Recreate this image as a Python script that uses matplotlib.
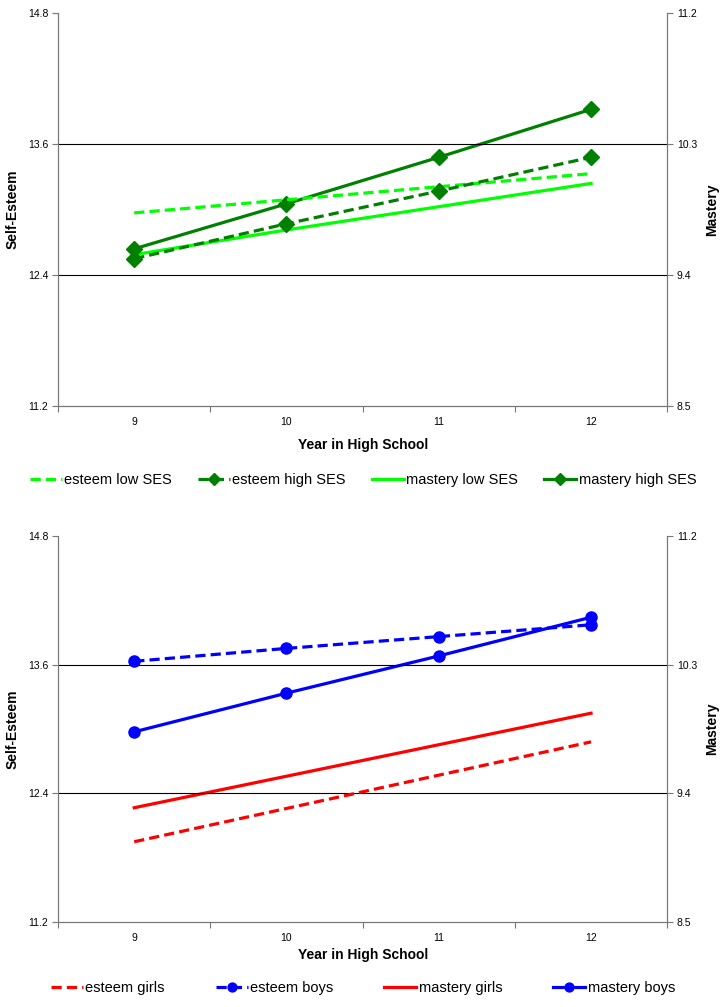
import matplotlib
matplotlib.use("Agg")
import matplotlib.pyplot as plt
from matplotlib.ticker import FixedLocator, NullFormatter

plt.rcParams['font.family'] = ['Liberation Sans', 'DejaVu Sans']

years = [9, 10, 11, 12]
esteem_ticks = [11.2, 12.4, 13.6, 14.8]
mastery_ticks = [8.5, 9.4, 10.3, 11.2]

# Panel 1: SES
esteem_low_ses = [12.97, 13.09, 13.21, 13.33]
esteem_high_ses = [12.55, 12.87, 13.17, 13.48]
mastery_low_ses = [9.54, 9.71, 9.87, 10.03]
mastery_high_ses = [9.58, 9.89, 10.21, 10.54]

# Panel 2: gender
esteem_girls = [11.95, 12.26, 12.57, 12.88]
esteem_boys = [13.63, 13.75, 13.86, 13.97]
mastery_girls = [9.30, 9.52, 9.74, 9.96]
mastery_boys = [9.83, 10.10, 10.36, 10.63]

LIME = '#00FF00'
DKGREEN = '#008000'
RED = '#FF0000'
BLUE = '#0000FF'

fig = plt.figure(figsize=(7.26, 10.07), dpi=100)

LW = 2.3
DASH = (3.2, 1.6)


def panel(rect, series, legend_y, xlabelpad, legend_kw):
    ax = fig.add_axes(rect)
    ax2 = ax.twinx()
    ax.set_xlim(8.5, 12.5)
    ax.set_ylim(11.2, 14.8)
    ax2.set_ylim(8.5, 11.2)
    ax.set_zorder(ax2.get_zorder() + 1)
    ax.patch.set_visible(False)

    handles = []
    for label, vals, color, dashed, marker, ms, right in series:
        target = ax2 if right else ax
        kw = dict(color=color, lw=LW, marker=marker, ms=ms,
                  markerfacecolor=color, markeredgecolor=color, label=label)
        if dashed:
            kw['dashes'] = DASH
        h, = target.plot(years, vals, **kw)
        handles.append(h)

    for a in (ax, ax2):
        a.spines['top'].set_visible(False)
        for s in a.spines.values():
            s.set_color('#777777')
            s.set_linewidth(0.8)
    ax.yaxis.set_major_locator(FixedLocator(esteem_ticks))
    ax.set_yticklabels([f'{t:.1f}' for t in esteem_ticks])
    ax2.yaxis.set_major_locator(FixedLocator(mastery_ticks))
    ax2.set_yticklabels([f'{t:.1f}' for t in mastery_ticks])
    for t in esteem_ticks[1:3]:
        ax.axhline(t, color='black', lw=0.8, zorder=0)

    ax.xaxis.set_major_locator(FixedLocator([8.5, 9.5, 10.5, 11.5, 12.5]))
    ax.xaxis.set_major_formatter(NullFormatter())
    ax.xaxis.set_minor_locator(FixedLocator(years))
    ax.set_xticklabels([str(y) for y in years], minor=True)
    ax.tick_params(axis='x', which='minor', length=0, pad=8, labelsize=7.5)
    ax.tick_params(axis='x', which='major', length=4, color='#777777')
    ax.tick_params(axis='y', length=4, labelsize=7.5, pad=3, color='#777777')
    ax2.tick_params(axis='y', length=4, labelsize=7.5, pad=3, color='#777777')

    ax.set_xlabel('Year in High School', fontsize=10, fontweight='bold', labelpad=xlabelpad)
    ax.set_ylabel('Self-Esteem', fontsize=10, fontweight='bold', labelpad=6)
    ax2.set_ylabel('Mastery', fontsize=10, fontweight='bold', labelpad=6)

    fig.legend(handles=handles, loc='center', bbox_to_anchor=(0.5, legend_y),
               ncol=4, frameon=False, fontsize=10.5, handlelength=2.2,
               handletextpad=0.15, markerscale=0.8, **legend_kw)
    return ax


panel([0.080, 0.597, 0.839, 0.3897],
      [('esteem low SES', esteem_low_ses, LIME, True, None, 0, False),
       ('esteem high SES', esteem_high_ses, DKGREEN, True, 'D', 8, False),
       ('mastery low SES', mastery_low_ses, LIME, False, None, 0, True),
       ('mastery high SES', mastery_high_ses, DKGREEN, False, 'D', 8, True)],
      1 - 480 / 1007, 8, dict(columnspacing=1.8))

panel([0.080, 0.0841, 0.839, 0.384],
      [('esteem girls', esteem_girls, RED, True, None, 0, False),
       ('esteem boys', esteem_boys, BLUE, True, 'o', 8, False),
       ('mastery girls', mastery_girls, RED, False, None, 0, True),
       ('mastery boys', mastery_boys, BLUE, False, 'o', 8, True)],
      1 - 988 / 1007, 3, dict(columnspacing=3.5))

fig.savefig('out.png', dpi=100)
